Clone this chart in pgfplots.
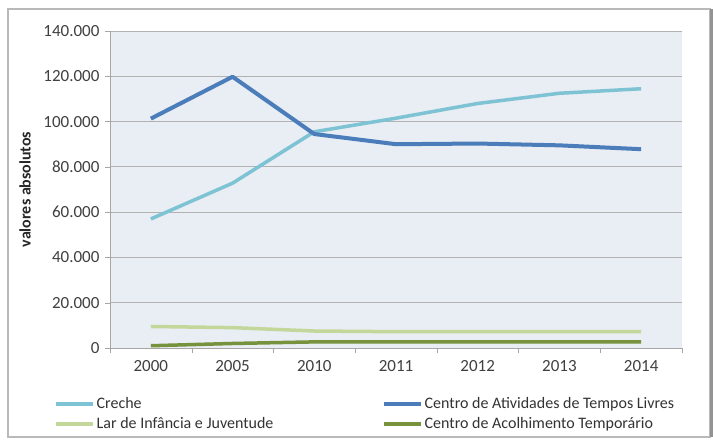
\documentclass[border=0pt]{standalone}
\usepackage{fontspec}
\setmainfont{Carlito}
\usepackage{pgfplots}
\pgfplotsset{compat=1.18}
\definecolor{creche}{HTML}{7EC3D3}
\definecolor{catl}{HTML}{4A7DBA}
\definecolor{lar}{HTML}{C4D79B}
\definecolor{cat}{HTML}{76923C}
\definecolor{bgcol}{HTML}{E9EDF4}
\definecolor{tickcol}{HTML}{404040}
\begin{document}
\fontsize{16}{19}\selectfont
\begin{tikzpicture}[x=1pt,y=1pt]
\useasboundingbox (-110,-92) rectangle (603,348);
\fill[white] (-110,-92) rectangle (603,348);
\draw[gray!55, line width=1.2pt] (-102,-89) rectangle (600,339);
\draw[gray!85, line width=2.2pt] (601.5,-89) -- (601.5,339);
\begin{axis}[
  at={(0,0)}, anchor=south west,
  scale only axis, width=572pt, height=317pt,
  xmin=-0.5, xmax=6.5, ymin=0, ymax=140000,
  xtick={0,...,6},
  xticklabels={2000,2005,2010,2011,2012,2013,2014},
  major x tick style={draw=none},
  minor xtick={-0.5,0.5,...,6.5},
  minor x tick style={draw=gray!70},
  ytick={0,20000,40000,60000,80000,100000,120000,140000},
  yticklabels={0,20.000,40.000,60.000,80.000,100.000,120.000,140.000},
  scaled y ticks=false,
  tick label style={color=tickcol, font=\fontsize{17}{20}\selectfont},
  xticklabel style={yshift=-2pt},
  tick align=outside, major tick length=5pt, minor tick length=5pt,
  y tick style={draw=gray!70},
  ymajorgrids, grid style={draw=gray!60, line width=0.9pt},
  axis x line*=bottom, axis y line*=left,
  axis line style={draw=gray!70, line width=0.8pt, -},
  axis background/.style={fill=bgcol},
  ylabel={\textbf{valores absolutos}},
  ylabel style={font=\fontsize{16}{19}\selectfont, at={(axis description cs:-0.1486,0.5)}, anchor=center, color=black!85},
  legend columns=2,
  legend cell align=left,
  legend image code/.code={\draw[#1] (0pt,0pt) -- (37pt,0pt);},
  legend style={draw=none, fill=none, at={(-56pt,-47pt)}, anchor=north west,
    font=\fontsize{16}{19}\selectfont, text=black!80,
    /tikz/every even column/.style={column sep=0pt},
    row sep=2.5pt, inner sep=0pt},
  line join=round,
]
\addplot[creche, line width=3.5pt] coordinates {(0,57000) (1,72800) (2,95500) (3,101500) (4,108000) (5,112500) (6,114500)};
\addlegendentry{\makebox[283pt][l]{Creche}}
\addplot[catl, line width=4pt] coordinates {(0,101300) (1,119800) (2,94500) (3,90000) (4,90300) (5,89500) (6,87800)};
\addlegendentry{Centro de Atividades de Tempos Livres}
\addplot[lar, line width=3.5pt] coordinates {(0,9500) (1,9000) (2,7500) (3,7200) (4,7200) (5,7200) (6,7200)};
\addlegendentry{\makebox[283pt][l]{Lar de Infância e Juventude}}
\addplot[cat, line width=3.5pt] coordinates {(0,1000) (1,2000) (2,2700) (3,2700) (4,2700) (5,2700) (6,2700)};
\addlegendentry{Centro de Acolhimento Temporário}
\end{axis}
\end{tikzpicture}
\end{document}
